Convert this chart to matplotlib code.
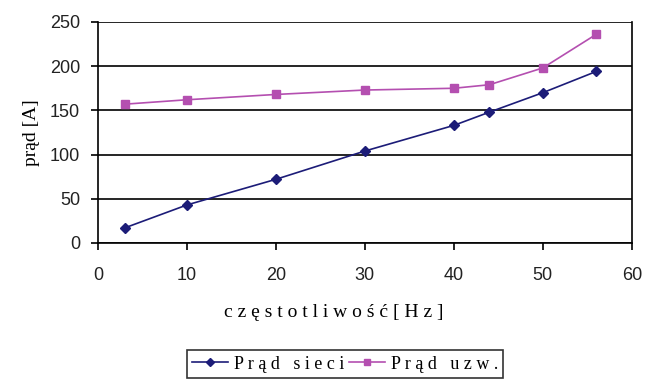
import matplotlib
matplotlib.use('Agg')
import matplotlib.pyplot as plt

# data
freq = [3, 10, 20, 30, 40, 44, 50, 56]
prad_sieci = [17, 43, 72, 104, 133, 148, 170, 194]
prad_uzw = [157, 162, 168, 173, 175, 179, 198, 236]
x_ticks = [0, 10, 20, 30, 40, 50, 60]
y_ticks = [0, 50, 100, 150, 200, 250]


def spaced(s):
    # old Excel charts print these labels with wide letter spacing
    return ' '.join(s)


fig = plt.figure(figsize=(6.59, 3.79), dpi=100)
ax = fig.add_axes([0.1487, 0.359, 0.81, 0.583])

ax.plot(freq, prad_sieci, color='#1c1c78', marker='D', markersize=5,
        linewidth=1.2, label=spaced('Prąd sieci'))
ax.plot(freq, prad_uzw, color='#b44fb0', marker='s', markersize=6,
        linewidth=1.2, label=spaced('Prąd uzw.'))

ax.set_xlim(0, 60)
ax.set_ylim(0, 250)
ax.set_xticks(x_ticks)
ax.set_yticks(y_ticks)
ax.yaxis.grid(True, color='black', linewidth=1.2)
ax.set_axisbelow(True)
for sp in ax.spines.values():
    sp.set_linewidth(1.2)
ax.spines['top'].set_visible(False)
ax.tick_params(direction='out', length=5, width=1.2, labelsize=13)
ax.tick_params(axis='x', pad=12)
ax.tick_params(axis='y', pad=8)
for lbl in ax.get_xticklabels() + ax.get_yticklabels():
    lbl.set_family('Liberation Sans')
    lbl.set_color('#222222')

ax.set_xlabel(spaced('częstotliwość') + ' ' + spaced('[Hz]'),
              family='Liberation Serif', fontsize=14, labelpad=15)
ax.xaxis.label.set_x(0.442)
ax.set_ylabel('prąd [A]', family='Liberation Serif', fontsize=14, labelpad=7)

leg = fig.legend(loc='upper center', bbox_to_anchor=(0.5235, 0.1), ncol=2,
                 prop={'family': 'Liberation Serif', 'size': 13},
                 frameon=True, fancybox=False, edgecolor='black',
                 handlelength=2.0, handletextpad=0.3, columnspacing=0.3,
                 borderpad=0.3, markerscale=0.8)
leg.get_frame().set_linewidth(1.2)

fig.savefig('out.png', dpi=100)
